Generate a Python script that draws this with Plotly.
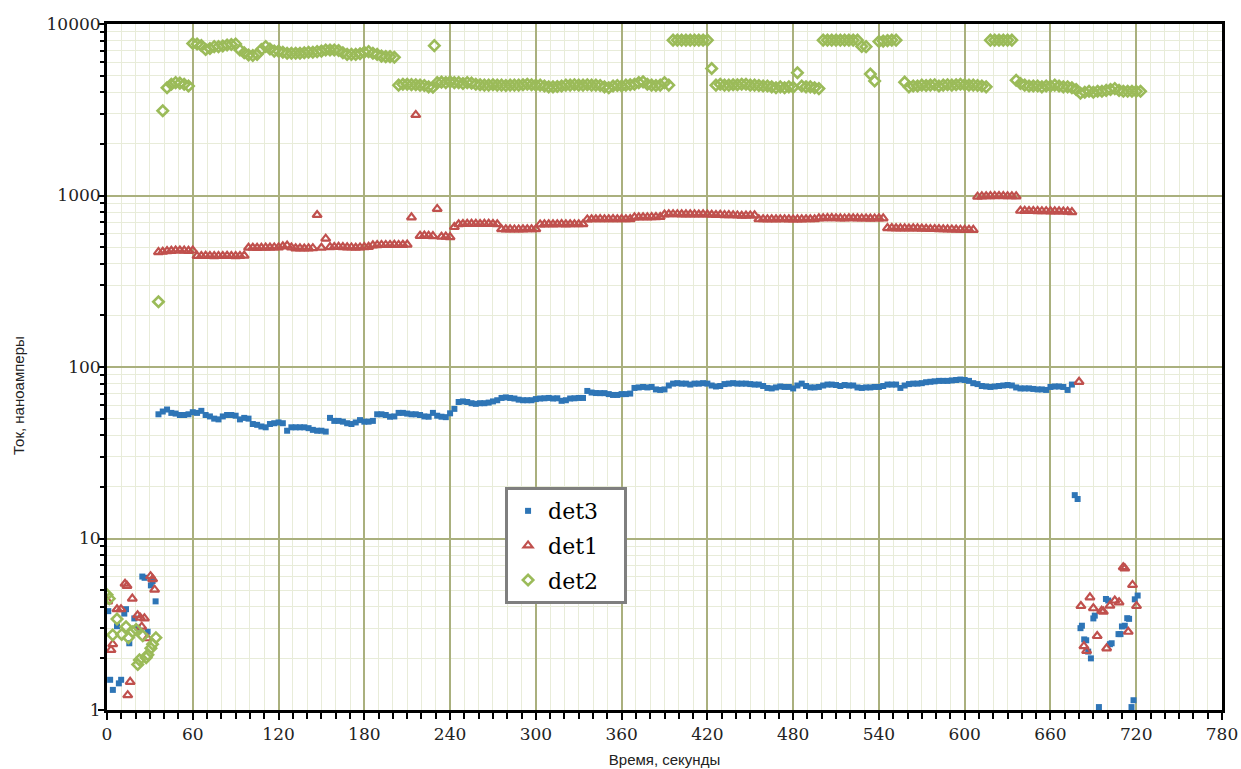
import numpy as np
import plotly.graph_objects as go

# Regular sampling of the main run (seconds)
STEP = 3
t_det3 = np.arange(36, 676, STEP)    # 36 .. 675
t_det1 = np.arange(36, 676, STEP)    # 36 .. 675
t_det2 = np.arange(36, 724, STEP)    # 36 .. 723

# det3 main run, nA
det3_main = [
    53, 55, 56.5, 54, 53.5, 52.5, 52.5, 53, 54.5, 54,
    55.5, 52.5, 51.5, 50, 49.5, 51.5, 52.5, 52.5, 52, 49.5,
    50.5, 50, 46.5, 46, 45, 44.5, 46.5, 47, 47.5, 47,
    42.5, 44.5, 44.5, 44.5, 44.5, 44, 43, 42.5, 42.5, 42,
    50.5, 48.5, 48.5, 48, 47, 46.5, 47.5, 49, 48, 48,
    48.5, 53, 53, 52.5, 51.3, 51.5, 54, 54, 53.5, 53,
    53, 52.5, 51.5, 51.3, 54, 52, 51.3, 51, 53.7, 57,
    62.5, 63, 62.5, 61.5, 61, 61.5, 61.5, 62, 63, 64,
    66, 66.5, 66, 65.5, 64.5, 64, 64, 64, 65, 65.5,
    65.7, 66, 65.5, 65.7, 63.5, 64, 65.5, 65.7, 66, 66,
    72.5, 71, 70.5, 70.4, 70.4, 69.5, 68.7, 68.7, 69.5, 69.5,
    70, 75.5, 76, 76.5, 76, 76.5, 74, 73.5, 74, 78,
    80, 80.5, 80, 80, 79, 80, 80, 80.5, 80, 78,
    77, 77.5, 79.5, 80, 80.5, 80, 80, 80, 79.5, 79,
    79, 77.5, 75.5, 75, 76, 77, 76.5, 76.5, 75, 78,
    80, 77.5, 76, 76, 76.5, 78, 79, 79, 78.5, 77.5,
    78.5, 78, 78, 76, 75.5, 76, 76, 76.5, 76.5, 77.5,
    79, 79, 79, 75.5, 78, 79.5, 80, 80, 80.5, 81.5,
    82, 82.5, 83, 83, 83, 83.5, 84, 84.5, 84, 83,
    80.5, 79.5, 77.5, 77, 76.5, 77, 77.5, 78, 78.5, 78,
    76, 75, 75, 75, 74.5, 74, 74, 73.5, 76.5, 77,
    77, 76.5, 73.5, 79,
]

# det1 main run, nA
det1_main = [
    468, 470, 474, 476, 478, 478, 477, 476, 478, 444,
    444, 445, 444, 443, 444, 444, 445, 444, 443, 444,
    446, 496, 496, 495, 496, 497, 497, 498, 498, 505,
    510, 498, 492, 492, 491, 492, 493, 770, 496, 560,
    500, 501, 502, 500, 499, 498, 496, 498, 500, 502,
    512, 514, 515, 515, 515, 516, 515, 516, 517, 746,
    2950, 582, 584, 582, 580, 835, 575, 576, 572, 655,
    680, 682, 683, 684, 683, 682, 683, 684, 682, 680,
    636, 635, 635, 634, 634, 635, 636, 636, 636, 678,
    679, 680, 679, 680, 681, 679, 680, 680, 680, 680,
    725, 727, 727, 728, 727, 727, 728, 727, 728, 727,
    728, 746, 746, 747, 746, 748, 749, 750, 775, 778,
    778, 778, 777, 776, 777, 776, 775, 776, 775, 772,
    770, 772, 768, 768, 767, 765, 762, 764, 765, 766,
    727, 727, 726, 727, 726, 727, 727, 726, 725, 726,
    726, 727, 727, 727, 736, 737, 738, 738, 737, 736,
    735, 737, 737, 736, 735, 735, 734, 735, 736, 736,
    645, 645, 644, 643, 643, 642, 644, 643, 641, 640,
    638, 638, 637, 636, 635, 634, 633, 632, 631, 630,
    630, 984, 988, 990, 992, 992, 993, 992, 990, 990,
    988, 815, 814, 812, 812, 811, 810, 810, 809, 808,
    808, 807, 805, 800,
]

# det2 main run, nA (None = no reading)
det2_main = [
    240, 3120, 4250, 4450, 4550, 4520, 4450, 4350, 7700, 7650,
    7500, 7100, 7200, 7380, 7380, 7450, 7550, 7600, 7650, 7050,
    6800, 6600, 6550, 6650, 7100, 7400, 7150, 6950, 6950, 6850,
    6750, 6750, 6750, 6750, 6800, 6850, 6850, 6900, 6950, 7050,
    7050, 7050, 7000, 6800, 6650, 6650, 6650, 6700, 6850, 6900,
    6750, 6650, 6500, 6450, 6450, 6400, 4400, 4450, 4450, 4430,
    4420, 4400, 4380, 4300, 4280, 4550, 4580, 4550, 4600, 4550,
    4550, 4500, 4550, 4520, 4450, 4420, 4400, 4400, 4420, 4400,
    4400, 4380, 4400, 4400, 4400, 4420, 4450, 4420, 4400, 4400,
    4350, 4300, 4300, 4320, 4350, 4400, 4400, 4420, 4400, 4400,
    4420, 4400, 4400, 4380, 4300, 4250, 4350, 4380, 4350, 4400,
    4420, 4450, 4550, 4600, 4450, 4400, 4380, 4400, 4550, 4400,
    8050, 8050, 8050, 8050, 8050, 8050, 8050, 8050, 8050, 5500,
    4400, 4450, 4400, 4400, 4420, 4420, 4450, 4450, 4400, 4400,
    4380, 4350, 4350, 4300, 4250, 4300, 4250, 4300, 4280, 5200,
    4350, 4300, 4300, 4250, 4200, 8050, 8050, 8050, 8050, 8050,
    8050, 8050, 8050, 8050, 7400, 7380, 5110, 4650, 7900, 7950,
    8000, 8050, 8050, None, 4580, 4300, 4350, 4350, 4400, 4380,
    4400, 4420, 4350, 4400, 4420, 4400, 4420, 4450, 4420, 4400,
    4400, 4380, 4350, 4300, 8050, 8050, 8050, 8050, 8050, 8050,
    4700, 4500, 4400, 4350, 4350, 4350, 4300, 4350, 4350, 4400,
    4350, 4300, 4300, 4250, 4150, 3950, 4000, 4050, 4000, 4050,
    4050, 4100, 4150, 4200, 4100, 4050, 4050, 4050, 4050, 4050,
]

# Scattered readings outside the main run: (time s, current nA)
det3_extra_t = [0.9, 2.2, 4.1, 7.0, 8.3, 9.9, 12.1, 13.3, 15.6, 19.1, 21.4,
                24.7, 26.3, 28.4, 30.7, 31.9, 34.0,
                677, 679, 681, 682, 683.6, 685, 686.4, 688.3, 690, 691,
                693.9, 698.8, 700.4, 701.6, 702.8, 707.6, 709, 710, 712,
                713.7, 715, 716.7, 718.1, 719, 721]
det3_extra_v = [3.77, 1.5, 1.31, 3.08, 1.43, 1.5, 3.65, 3.87, 2.45, 3.42, 3.02,
                6.0, 5.9, 2.86, 5.33, 5.65, 4.3,
                17.9, 17.0, 3.0, 3.1, 2.58, 2.55, 2.19, 2.0, 3.42, 3.55,
                1.04, 4.44, 4.35, 2.42, 2.45, 2.77, 2.77, 3.07, 3.1,
                3.43, 3.4, 1.04, 1.14, 4.42, 4.65]

det1_extra_t = [0.5, 2.8, 4.0, 7.0, 9.8, 12.6, 14.0, 14.5, 16.2, 17.7, 21.4,
                23.3, 24.3, 26.2, 28.3, 30.5, 31.9, 33.3,
                680, 681.3, 683.4, 685.3, 687.6, 690, 692.7, 695.8, 697,
                699.3, 701.6, 705, 708, 710.9, 712, 714.4, 717.4, 720.2]
det1_extra_v = [4.3, 2.24, 2.42, 3.87, 3.87, 5.45, 5.3, 1.22, 1.46, 4.46, 3.57,
                3.45, 3.06, 3.42, 2.62, 6.03, 5.8, 5.03,
                82, 4.04, 2.36, 2.21, 4.54, 3.92, 2.70, 3.79, 3.75,
                2.29, 4.06, 4.35, 4.24, 6.8, 6.7, 2.86, 5.36, 4.04]

det2_extra_t = [0.0, 1.6, 4.0, 7.0, 10.3, 13.3, 15.0, 18.0, 20.4, 21.5, 22.7,
                25.0, 27.4, 28.6, 30.7, 31.9, 34.2,
                229]
det2_extra_v = [4.7, 4.46, 2.74, 3.39, 2.76, 3.06, 2.64, 2.86, 2.95, 1.84, 1.96,
                2.71, 2.02, 2.1, 2.29, 2.42, 2.64,
                7480]

x_ticks = list(range(0, 781, 60))
y_ticks = [1, 10, 100, 1000, 10000]
y_tick_text = ["1", "10", "100", "1000", "10000"]

BLUE = "#2e75b6"
RED = "#c0504d"
GREEN = "#9bbb59"
GRID_MAJOR = "#aab07e"
GRID_MINOR = "#e8ecd9"
SERIF = "DejaVu Serif"
SANS = "Liberation Sans"
PAD = "\u00a0\u00a0\u00a0"   # keeps the legend box a little wider than its text

fig = go.Figure()

fig.add_trace(go.Scatter(
    x=list(t_det3) + det3_extra_t, y=det3_main + det3_extra_v,
    mode="markers", name="det3" + PAD, legendgroup="g3",
    marker=dict(symbol="square", size=6, color=BLUE, line=dict(width=0)),
))
fig.add_trace(go.Scatter(
    x=list(t_det1) + det1_extra_t, y=det1_main + det1_extra_v,
    mode="markers", name="det1" + PAD, legendgroup="g1",
    marker=dict(symbol="triangle-up-open", size=8, color=RED,
                line=dict(width=2.2, color=RED)),
))
fig.add_trace(go.Scatter(
    x=list(t_det2) + det2_extra_t, y=det2_main + det2_extra_v,
    mode="markers", name="det2" + PAD, legendgroup="g2",
    marker=dict(symbol="diamond-open", size=8, color=GREEN,
                line=dict(width=2.6, color=GREEN)),
))

minor_y = [m * 10 ** d for d in range(4) for m in range(2, 10)]

fig.update_xaxes(
    range=[0, 780], tickmode="array", tickvals=x_ticks,
    ticks="outside", ticklen=7, tickwidth=2, tickcolor="black",
    showgrid=True, gridcolor=GRID_MAJOR, gridwidth=1.5,
    minor=dict(dtick=10, tick0=0, ticks="outside", ticklen=6, tickwidth=2,
               tickcolor="black", showgrid=True, gridcolor=GRID_MINOR, gridwidth=1),
    showline=True, linecolor="black", linewidth=3, mirror=True,
    zeroline=False, automargin=False,
    tickfont=dict(family=SERIF, size=17, color="#222"),
    title=dict(text="Время, секунды", font=dict(family=SANS, size=15, color="#222"),
               standoff=12),
)
fig.update_yaxes(
    type="log", range=[0, 4], tickmode="array", tickvals=y_ticks, ticktext=y_tick_text,
    ticks="outside", ticklen=6, tickwidth=2, tickcolor="black",
    ticklabelstandoff=-6,
    showgrid=True, gridcolor=GRID_MAJOR, gridwidth=1.5,
    minor=dict(tickmode="array", tickvals=minor_y, ticks="outside", ticklen=4,
               tickwidth=2, tickcolor="black", showgrid=True,
               gridcolor=GRID_MINOR, gridwidth=1),
    showline=True, linecolor="black", linewidth=3, mirror=True,
    zeroline=False, automargin=False,
    tickfont=dict(family=SERIF, size=17, color="#222"),
)

fig.add_annotation(
    text="Ток, наноамперы", xref="paper", yref="paper",
    x=-0.08, y=0.459, xanchor="center", yanchor="middle",
    textangle=-90, showarrow=False,
    font=dict(family=SANS, size=15, color="#222"),
)

fig.update_layout(
    width=1241, height=769,
    margin=dict(l=107, r=19, t=24, b=59, autoexpand=False),
    paper_bgcolor="white", plot_bgcolor="white",
    legend=dict(
        x=0.357, y=0.325, xanchor="left", yanchor="top",
        bgcolor="white", bordercolor="#7f7f7f", borderwidth=3,
        font=dict(family=SERIF, size=22, color="black"),
        tracegroupgap=3, itemsizing="trace",
    ),
    showlegend=True,
)

fig.write_html("out.html")
